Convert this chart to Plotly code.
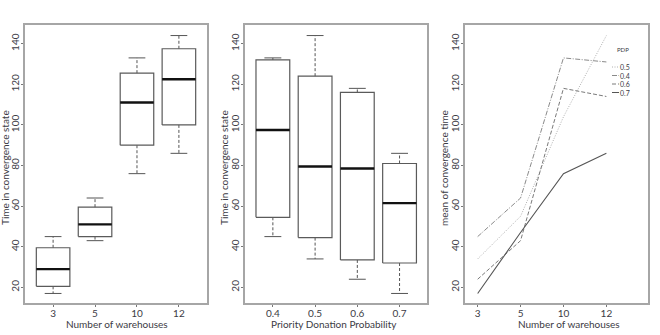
import math
import plotly.graph_objects as go

# ---------------- data ----------------
warehouses = ["3", "5", "10", "12"]
pdp_levels = ["0.4", "0.5", "0.6", "0.7"]
# mean convergence time per PDP level, across warehouses 3, 5, 10, 12
conv_pdp04 = [45, 64, 133, 131]
conv_pdp05 = [34, 55, 104, 144]
conv_pdp06 = [24, 43, 118, 114]
conv_pdp07 = [17, 47, 76, 86]
y_ticks = [20, 40, 60, 80, 100, 120, 140]

series = {"0.4": conv_pdp04, "0.5": conv_pdp05, "0.6": conv_pdp06, "0.7": conv_pdp07}
by_warehouse = [[series[p][i] for p in pdp_levels] for i in range(len(warehouses))]
by_pdp = [series[p] for p in pdp_levels]

W, H = 660, 335
FONT = "Lato"
TXT = "#3b3b44"
FRAME = "#a6a6a6"


def fivenum(v):
    x = sorted(v)
    n = len(x)
    n4 = math.floor((n + 3) / 2) / 2
    d = [1, n4, (n + 1) / 2, n + 1 - n4, n]
    return [0.5 * (x[math.floor(k) - 1] + x[math.ceil(k) - 1]) for k in d]


fig = go.Figure()


def add_boxes(groups, xa, ya):
    bx, by, mx, my, wx, wy, sx, sy = [], [], [], [], [], [], [], []
    hw, sw = 0.4, 0.2
    for c, g in enumerate(groups):
        lo, q1, med, q3, hi = fivenum(g)
        bx += [c - hw, c + hw, c + hw, c - hw, c - hw, None]
        by += [q1, q1, q3, q3, q1, None]
        mx += [c - hw, c + hw, None]
        my += [med, med, None]
        wx += [c, c, None, c, c, None]
        wy += [q3, hi, None, q1, lo, None]
        sx += [c - sw, c + sw, None, c - sw, c + sw, None]
        sy += [hi, hi, None, lo, lo, None]
    common = dict(xaxis=xa, yaxis=ya, mode="lines", showlegend=False, hoverinfo="skip")
    fig.add_trace(go.Scatter(x=wx, y=wy, line=dict(color="#555555", width=1, dash="3px,2px"), **common))
    fig.add_trace(go.Scatter(x=sx, y=sy, line=dict(color="#555555", width=1), **common))
    fig.add_trace(go.Scatter(x=bx, y=by, line=dict(color="#5a5a5a", width=1.2), **common))
    fig.add_trace(go.Scatter(x=mx, y=my, line=dict(color="#111111", width=2.4), **common))


add_boxes(by_warehouse, "x", "y")
add_boxes(by_pdp, "x2", "y2")

line_styles = {
    "0.5": dict(color="#b0b0b0", width=1, dash="1px,1.5px"),
    "0.4": dict(color="#8a8a8a", width=1, dash="5px,1.5px,1px,1.5px"),
    "0.6": dict(color="#7a7a7a", width=1, dash="4px,2px"),
    "0.7": dict(color="#555555", width=1.1, dash="solid"),
}
for p in ["0.5", "0.4", "0.6", "0.7"]:
    fig.add_trace(go.Scatter(x=list(range(len(warehouses))), y=series[p], xaxis="x3", yaxis="y3",
                             mode="lines", line=line_styles[p], showlegend=False, hoverinfo="skip"))

ydom = [32 / H, 310 / H]
xdoms = [[25 / W, 207 / W], [245 / W, 427 / W], [465 / W, 648 / W]]
xranges = [[-0.67, 3.67], [-0.66, 3.65], [-0.295, 3.97]]
xlabels = [warehouses, pdp_levels, warehouses]
xtitles = ["Number of warehouses", "Priority Donation Probability", "Number of warehouses"]
ytitles = ["Time in convergence state", "Time in convergence state", "mean of convergence time"]
xtitle_px = [117, 334, 569]
ytitle_px = [5, 224, 444]

layout = dict(
    width=W, height=H, margin=dict(l=0, r=0, t=0, b=0),
    paper_bgcolor="white", plot_bgcolor="white",
    font=dict(family=FONT, size=10, color=TXT),
)
for i in range(3):
    sfx = "" if i == 0 else str(i + 1)
    layout["xaxis" + sfx] = dict(
        domain=xdoms[i], anchor="y" + sfx, range=xranges[i], automargin=False,
        tickvals=list(range(4)), ticktext=xlabels[i],
        showgrid=False, zeroline=False, showline=True, mirror=True,
        linecolor=FRAME, linewidth=1.6, ticks="outside", ticklen=2, tickcolor="#777",
        tickfont=dict(size=10, color=TXT), ticklabelstandoff=-2,
    )
    layout["yaxis" + sfx] = dict(
        domain=ydom, anchor="x" + sfx, range=[12.3, 149.2], automargin=False,
        tickvals=y_ticks, tickangle=-90,
        showgrid=False, zeroline=False, showline=True, mirror=True,
        linecolor=FRAME, linewidth=1.6, ticks="outside", ticklen=2, tickcolor="#777",
        tickfont=dict(size=10, color=TXT), ticklabelstandoff=-2,
    )
fig.update_layout(**layout)

for i in range(3):
    fig.add_annotation(text=xtitles[i], x=xtitle_px[i] / W, y=1 - 323.5 / H, xref="paper", yref="paper",
                       xanchor="center", yanchor="middle", showarrow=False, font=dict(size=10, color=TXT))
    fig.add_annotation(text=ytitles[i], x=ytitle_px[i] / W, y=1 - 168 / H, xref="paper", yref="paper",
                       xanchor="center", yanchor="middle", textangle=-90, showarrow=False,
                       font=dict(size=10, color=TXT))

# manual legend for the interaction plot
legend_order = ["0.5", "0.4", "0.6", "0.7"]
fig.add_annotation(text="PDP", x=615 / W, y=1 - 50 / H, xref="paper", yref="paper",
                   xanchor="left", yanchor="middle", showarrow=False, font=dict(size=6, color=TXT))
for k, p in enumerate(legend_order):
    yy = 1 - (67 + k * 8.5) / H
    st = line_styles[p]
    fig.add_shape(type="line", xref="paper", yref="paper", x0=612 / W, x1=619 / W, y0=yy, y1=yy,
                  line=dict(color=st["color"], width=1, dash=st["dash"]))
    fig.add_annotation(text=p, x=618 / W, y=yy, xref="paper", yref="paper",
                       xanchor="left", yanchor="middle", showarrow=False, font=dict(size=7, color=TXT))

fig.write_html("out.html", config={"displayModeBar": False},
               post_script="document.body.style.margin='0';document.body.style.overflow='hidden';")
